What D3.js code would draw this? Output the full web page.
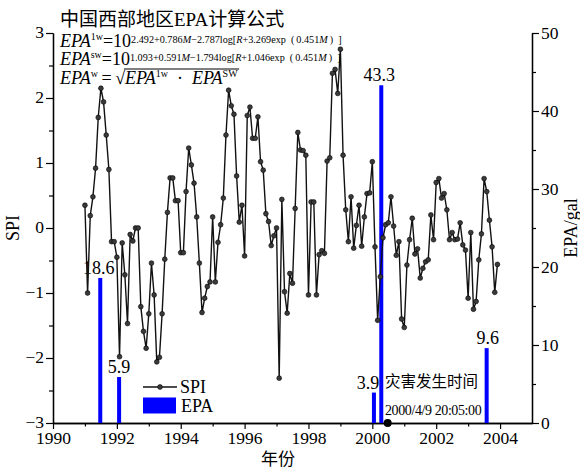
<!DOCTYPE html>
<html>
<head>
<meta charset="utf-8">
<script src="https://cdn.jsdelivr.net/npm/d3@7"></script>
<style>
  body { margin: 0; background: #fff; }
  svg text { fill: #000; }
</style>
</head>
<body>
<svg id="chart" width="580" height="470"></svg>
<script>
// Monthly SPI, January 1991 to December 2003
const spiStartYear = 1991;
const spiValues = [
  0.35, -1.00, 0.19, 0.48, 0.92, 1.70, 2.15, 1.94, 1.43, 0.90, -0.21, -0.21,
  -0.45, -1.98, -0.23, -0.72, -1.47, -0.10, -0.20, 0.00, 0.00, -1.21, -1.59, -1.85,
  -1.32, -0.54, -1.03, -2.06, -1.99, -1.32, -0.48, 0.24, 0.77, 0.77, 0.42, 0.42,
  -0.38, -0.38, 0.56, 1.23, 0.97, 0.69, 0.17, -0.54, -1.30, -1.08, -0.90, -0.83,
  0.17, -0.83, -0.22, 0.05, 0.46, 1.43, 2.12, 1.88, 1.75, 0.80, 0.09, 0.35,
  -0.43, 1.73, 1.86, 1.38, 1.38, 1.71, 1.02, 0.89, 0.22, 0.10, -0.27, -0.12,
  0.00, -2.31, 0.44, -0.98, -1.31, -0.70, -0.85, 0.30, 1.47, 1.20, 1.19, 1.12,
  -1.03, 0.40, 0.40, -1.03, -0.41, -0.35, -0.39, 1.03, 1.08, 2.38, 2.44, 2.07,
  2.75, 1.12, 0.28, -0.21, 0.48, -0.31, 0.04, 0.35, -0.28, 0.17, 0.53, 0.54,
  1.02, -0.29, -1.42, -0.75, -0.15, 0.05, 0.08, 0.48, 0.03, -0.42, -0.21, -1.40,
  -1.53, -0.57, -0.18, 0.15, -0.40, -0.32, -0.77, -0.62, -0.52, -0.49, 0.20, -0.18,
  0.70, 0.76, 0.46, 0.53, 0.28, -0.18, -0.07, -0.18, -0.17, 0.08, -0.26, -0.34,
  -1.08, -0.07, -1.25, -1.13, -0.49, -0.09, 0.76, 0.56, 0.12, -0.29, -0.99, -0.56
];

// EPA of each event (decimal year, gal)
const epaTimes  = [1991.48, 1992.07, 2000.05, 2000.28, 2003.58];
const epaValues = [18.6, 5.9, 3.9, 43.3, 9.6];

// Disaster occurrence marker
const eventTime = 2000.48;
const eventTitle = "灾害发生时间";
const eventStamp = "2000/4/9 20:05:00";

// Axis ticks
const yearTicks  = [1990, 1992, 1994, 1996, 1998, 2000, 2002, 2004];
const yearMinor  = [1991, 1993, 1995, 1997, 1999, 2001, 2003];
const spiTicks   = [-3, -2, -1, 0, 1, 2, 3];
const spiMinor   = [-2.5, -1.5, -0.5, 0.5, 1.5, 2.5];
const epaTicks   = [0, 10, 20, 30, 40, 50];
const epaMinor   = [5, 15, 25, 35, 45];

// ---- layout ----
const L = 53, R = 532, T = 33, B = 423;
const serif = "'Liberation Serif', 'Times New Roman', serif";
const cjk = "'Noto Sans CJK SC', sans-serif";
// horizontal nudges of the value labels above the bars
const labelDx = [-1.5, 0, -6, -2, 1];

const svg = d3.select("#chart");

const x  = d3.scaleLinear().domain([1990, 2005]).range([L, R]);
const yL = d3.scaleLinear().domain([-3, 3]).range([B, T]);
const yR = d3.scaleLinear().domain([0, 50]).range([B, T]);

function styleAxis(g) {
  g.selectAll("path.domain").attr("stroke", "#000").attr("stroke-width", 1.3);
  g.selectAll(".tick line").attr("stroke", "#000").attr("stroke-width", 1.2);
  g.selectAll(".tick text").attr("font-family", serif).attr("font-size", 17.5).attr("fill", "#000");
}

// bottom axis
svg.append("g").attr("transform", `translate(0,${B})`)
  .call(d3.axisBottom(x).tickValues(yearTicks).tickFormat(d3.format("d"))
        .tickSize(6).tickPadding(3).tickSizeOuter(0))
  .call(styleAxis);
svg.append("g").attr("transform", `translate(0,${B})`)
  .call(d3.axisBottom(x).tickValues(yearMinor).tickFormat("").tickSize(3.5).tickSizeOuter(0))
  .call(styleAxis);

// left SPI axis
svg.append("g").attr("transform", `translate(${L},0)`)
  .call(d3.axisLeft(yL).tickValues(spiTicks).tickFormat(d3.format("d"))
        .tickSize(7).tickPadding(2).tickSizeOuter(0))
  .call(styleAxis)
  .selectAll(".tick text").attr("dy", "0.28em");
svg.append("g").attr("transform", `translate(${L},0)`)
  .call(d3.axisLeft(yL).tickValues(spiMinor).tickFormat("").tickSize(4).tickSizeOuter(0))
  .call(styleAxis);

// right EPA axis
svg.append("g").attr("transform", `translate(${R},0)`)
  .call(d3.axisRight(yR).tickValues(epaTicks).tickFormat(d3.format("d"))
        .tickSize(7).tickPadding(2).tickSizeOuter(0))
  .call(styleAxis);
svg.append("g").attr("transform", `translate(${R},0)`)
  .call(d3.axisRight(yR).tickValues(epaMinor).tickFormat("").tickSize(4).tickSizeOuter(0))
  .call(styleAxis);

// axis titles
svg.append("text").attr("transform", `translate(19,228) rotate(-90)`)
  .attr("text-anchor", "middle").attr("font-family", serif).attr("font-size", 18).text("SPI");
svg.append("text").attr("transform", `translate(577,228) rotate(-90)`)
  .attr("text-anchor", "middle").attr("font-family", serif).attr("font-size", 18).text("EPA/gal");
svg.append("text").attr("x", 278).attr("y", 465)
  .attr("text-anchor", "middle").attr("font-family", cjk).attr("font-size", 17).text("年份");

// EPA bars
const epa = epaTimes.map((t, i) => ({ t, v: epaValues[i], dx: labelDx[i] }));
svg.append("g").selectAll("rect").data(epa).join("rect")
  .attr("x", d => x(d.t) - 2).attr("width", 4)
  .attr("y", d => yR(d.v)).attr("height", d => yR(0) - yR(d.v))
  .attr("fill", "#0000ff");
svg.append("g").selectAll("text").data(epa).join("text")
  .attr("x", d => x(d.t) + d.dx).attr("y", d => yR(d.v) - 4)
  .attr("text-anchor", "middle").attr("font-family", serif).attr("font-size", 18)
  .text(d => d3.format(".1f")(d.v));

// SPI line with markers
const spi = spiValues.map((v, i) => ({ t: spiStartYear + i / 12, v }));
svg.append("path").datum(spi)
  .attr("fill", "none").attr("stroke", "#111").attr("stroke-width", 1.4)
  .attr("stroke-linejoin", "round")
  .attr("d", d3.line().x(d => x(d.t)).y(d => yL(d.v)));
svg.append("g").selectAll("circle").data(spi).join("circle")
  .attr("cx", d => x(d.t)).attr("cy", d => yL(d.v)).attr("r", 2.4)
  .attr("fill", "#3a3a3a").attr("stroke", "#000").attr("stroke-width", 0.6);

// disaster marker and annotation
svg.append("circle").attr("cx", x(eventTime)).attr("cy", B).attr("r", 4).attr("fill", "#000");
svg.append("text").attr("x", 385).attr("y", 387)
  .attr("font-family", cjk).attr("font-size", 15.5).text(eventTitle);
svg.append("text").attr("x", 385).attr("y", 415)
  .attr("font-family", serif).attr("font-size", 14).attr("letter-spacing", -0.4).text(eventStamp);

// legend
const lg = svg.append("g");
lg.append("line").attr("x1", 143).attr("x2", 177).attr("y1", 387).attr("y2", 387)
  .attr("stroke", "#111").attr("stroke-width", 1.4);
lg.append("circle").attr("cx", 160).attr("cy", 387).attr("r", 2.4)
  .attr("fill", "#3a3a3a").attr("stroke", "#000").attr("stroke-width", 0.6);
lg.append("text").attr("x", 180).attr("y", 393).attr("font-family", serif).attr("font-size", 18).text("SPI");
lg.append("rect").attr("x", 143).attr("y", 397.5).attr("width", 33).attr("height", 16).attr("fill", "#0000ff");
lg.append("text").attr("x", 181).attr("y", 412).attr("font-family", serif).attr("font-size", 18).text("EPA");

// title
const title = svg.append("text").attr("x", 60).attr("y", 26).attr("font-size", 19);
title.append("tspan").attr("font-family", cjk).text("中国西部地区");
title.append("tspan").attr("font-family", serif).text("EPA");
title.append("tspan").attr("font-family", cjk).text("计算公式");

// attenuation formulas: EPA^sup = 10^(exponent)
function formula(y, sup, expo) {
  const t = svg.append("text").attr("x", 60).attr("y", y).attr("font-family", serif).attr("font-size", 18);
  t.append("tspan").attr("font-style", "italic").text("EPA");
  t.append("tspan").attr("font-size", 10).attr("dy", -7).text(sup);
  t.append("tspan").attr("dy", 7).text("=10");
  expo.forEach(([s, it], k) => {
    const p = t.append("tspan").attr("font-size", 10.2).text(s);
    if (k === 0) p.attr("dy", -4);
    if (it) p.attr("font-style", "italic");
  });
}
formula(47, "1w", [["2.492+0.786", 0], ["M", 1], ["−2.787log[", 0], ["R", 1], ["+3.269exp\u2002(\u20090.451", 0], ["M", 1], ["\u2009)\u2002]", 0]]);
formula(65, "sw", [["1.093+0.591", 0], ["M", 1], ["−1.794log[", 0], ["R", 1], ["+1.046exp\u2002(\u20090.451", 0], ["M", 1], ["\u2009)\u2002]", 0]]);

// geometric mean line with radical
const l3 = svg.append("text").attr("x", 60).attr("y", 84).attr("font-family", serif).attr("font-size", 18);
l3.append("tspan").attr("font-style", "italic").text("EPA");
l3.append("tspan").attr("font-size", 10).attr("dy", -7).text("w");
l3.append("tspan").attr("dy", 7).text("\u2009=\u2009\u221A");
const rad = svg.append("text").attr("x", 125).attr("y", 84).attr("font-family", serif).attr("font-size", 18);
rad.append("tspan").attr("font-style", "italic").text("EPA");
rad.append("tspan").attr("font-size", 10).attr("dy", -7).text("1w");
rad.append("tspan").attr("dy", 7).text("\u2002\u00B7\u2002");
rad.append("tspan").attr("font-style", "italic").text("EPA");
rad.append("tspan").attr("font-size", 10).attr("dy", -7).text("SW");
const rb = rad.node().getBBox();
svg.append("line").attr("x1", 124).attr("x2", rb.x + rb.width + 1)
  .attr("y1", 69).attr("y2", 69).attr("stroke", "#000").attr("stroke-width", 1);
</script>
</body>
</html>
